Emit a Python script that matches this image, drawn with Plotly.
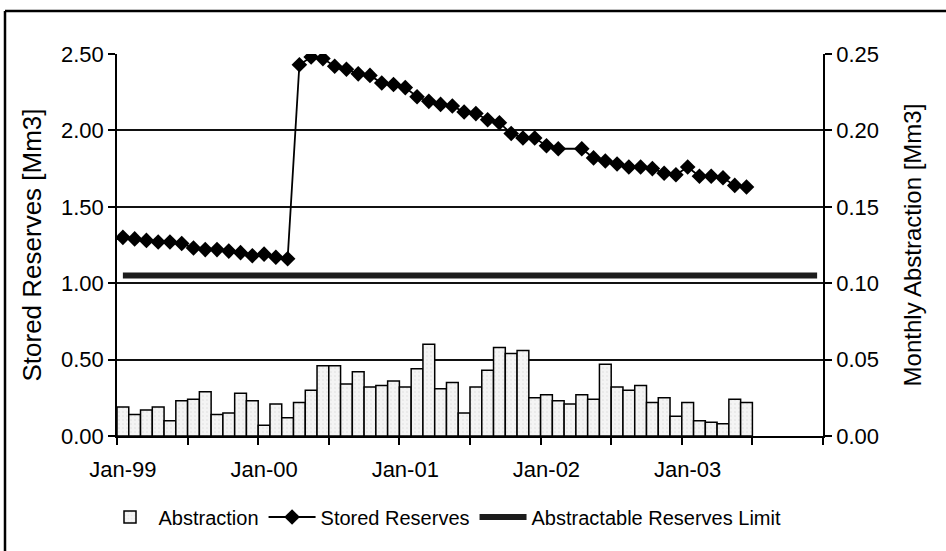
import pandas as pd
import plotly.graph_objects as go

# Monthly categories, Jan-1999 .. Dec-2003
months = [d.strftime("%b-%y") for d in pd.date_range("1999-01-01", "2003-12-01", freq="MS")]

# Monthly abstraction [Mm3], Jan-1999 .. Jun-2003
abstraction = [
    0.019, 0.014, 0.017, 0.019, 0.010, 0.023, 0.024, 0.029, 0.014, 0.015, 0.028, 0.023,
    0.007, 0.021, 0.012, 0.022, 0.030, 0.046, 0.046, 0.034, 0.042, 0.032, 0.033, 0.036,
    0.032, 0.044, 0.060, 0.031, 0.035, 0.015, 0.032, 0.043, 0.058, 0.054, 0.056, 0.025,
    0.027, 0.023, 0.021, 0.027, 0.024, 0.047, 0.032, 0.030, 0.033, 0.022, 0.025, 0.013,
    0.022, 0.010, 0.009, 0.008, 0.024, 0.022,
]

# Stored reserves [Mm3], Jan-1999 .. Jun-2003 (no reading for Mar-02)
stored_reserves = [
    1.30, 1.29, 1.28, 1.27, 1.27, 1.26, 1.23, 1.22, 1.22, 1.21, 1.20, 1.18,
    1.19, 1.17, 1.16, 2.43, 2.48, 2.47, 2.42, 2.40, 2.37, 2.36, 2.31, 2.30,
    2.28, 2.22, 2.19, 2.17, 2.16, 2.12, 2.11, 2.07, 2.05, 1.98, 1.95, 1.95,
    1.90, 1.88, None, 1.88, 1.82, 1.80, 1.78, 1.76, 1.76, 1.75, 1.72, 1.71,
    1.76, 1.70, 1.70, 1.69, 1.64, 1.63,
]

# Abstractable reserves limit [Mm3]
reserve_limit = [1.05] * len(months)

# Year labels shown on the time axis
year_labels = ["Jan-99", "Jan-00", "Jan-01", "Jan-02", "Jan-03"]

FONT = "Liberation Sans, Arial, sans-serif"
idx_all = list(range(len(months)))
label_pos = [months.index(lbl) for lbl in year_labels]

fig = go.Figure()

fig.add_trace(go.Bar(
    x=list(range(len(abstraction))), y=abstraction, yaxis="y2",
    name="Abstraction", width=1.0,
    marker=dict(
        color="#f2f2f2",
        line=dict(color="black", width=1.5),
        pattern=dict(shape=".", fgcolor="#c4c4c4", bgcolor="#f4f4f4", size=4, solidity=0.12),
    ),
    hovertext=months[:len(abstraction)],
))

fig.add_trace(go.Scatter(
    x=list(range(len(stored_reserves))), y=stored_reserves, yaxis="y",
    name="Stored Reserves", mode="lines+markers", connectgaps=True,
    line=dict(color="black", width=1.8),
    marker=dict(symbol="diamond", size=12, color="black"),
    hovertext=months[:len(stored_reserves)],
))

fig.add_trace(go.Scatter(
    x=idx_all, y=reserve_limit, yaxis="y",
    name="Abstractable Reserves Limit", mode="lines",
    line=dict(color="#1c1c1c", width=6),
    hovertext=months,
))

L, R, T, B = 117, 123, 54, 115
W, H = 946, 551
pw, ph = W - L - R, H - T - B

def px_x(px):
    return (px - L) / pw

def px_y(py):
    return (H - B - py) / ph

# Page frame: left and top edges
frame = dict(color="black", width=2.5)
fig.add_shape(type="line", xref="paper", yref="paper",
              x0=px_x(5), x1=px_x(5), y0=px_y(11), y1=px_y(600), line=frame)
fig.add_shape(type="line", xref="paper", yref="paper",
              x0=px_x(5), x1=px_x(1000), y0=px_y(11), y1=px_y(11), line=frame)

fig.update_layout(
    width=W, height=H,
    margin=dict(l=L, r=R, t=T, b=B),
    paper_bgcolor="white", plot_bgcolor="white",
    font=dict(family=FONT, color="black", size=22),
    barmode="overlay",
    showlegend=True,
    legend=dict(
        orientation="h", x=px_x(444), xanchor="center",
        y=px_y(517), yanchor="middle", itemwidth=47,
        font=dict(size=20, family=FONT), bgcolor="rgba(0,0,0,0)",
        traceorder="normal",
    ),
    xaxis=dict(
        range=[-0.5, len(months) - 0.5],
        tickmode="array", tickvals=label_pos, ticktext=year_labels,
        ticks="outside", ticklen=13, tickcolor="rgba(0,0,0,0)",
        showgrid=False, zeroline=False,
        showline=True, linecolor="black", linewidth=1.5,
        tickfont=dict(size=22),
        minor=dict(tick0=-0.5, dtick=6, ticks="outside", ticklen=7,
                   tickwidth=1.5, tickcolor="black", showgrid=False),
    ),
    yaxis=dict(
        range=[0, 2.5], dtick=0.5, tickformat=".2f",
        showgrid=True, gridcolor="#111111", gridwidth=1.5,
        zeroline=False, showline=True, linecolor="black", linewidth=1.5,
        ticks="outside", ticklen=7, tickwidth=1.5, tickcolor="black",
        tickfont=dict(size=22),
        title=dict(text="Stored Reserves [Mm3]", font=dict(size=26), standoff=12),
    ),
    yaxis2=dict(
        range=[0, 0.25], dtick=0.05, tickformat=".2f",
        overlaying="y", side="right", anchor="x",
        showgrid=False, zeroline=False,
        showline=True, linecolor="black", linewidth=1.5,
        ticks="outside", ticklen=7, tickwidth=1.5, tickcolor="black",
        tickfont=dict(size=22),
        title=dict(text="Monthly Abstraction [Mm3]", font=dict(size=24), standoff=26),
    ),
)

fig.write_html("out.html")
